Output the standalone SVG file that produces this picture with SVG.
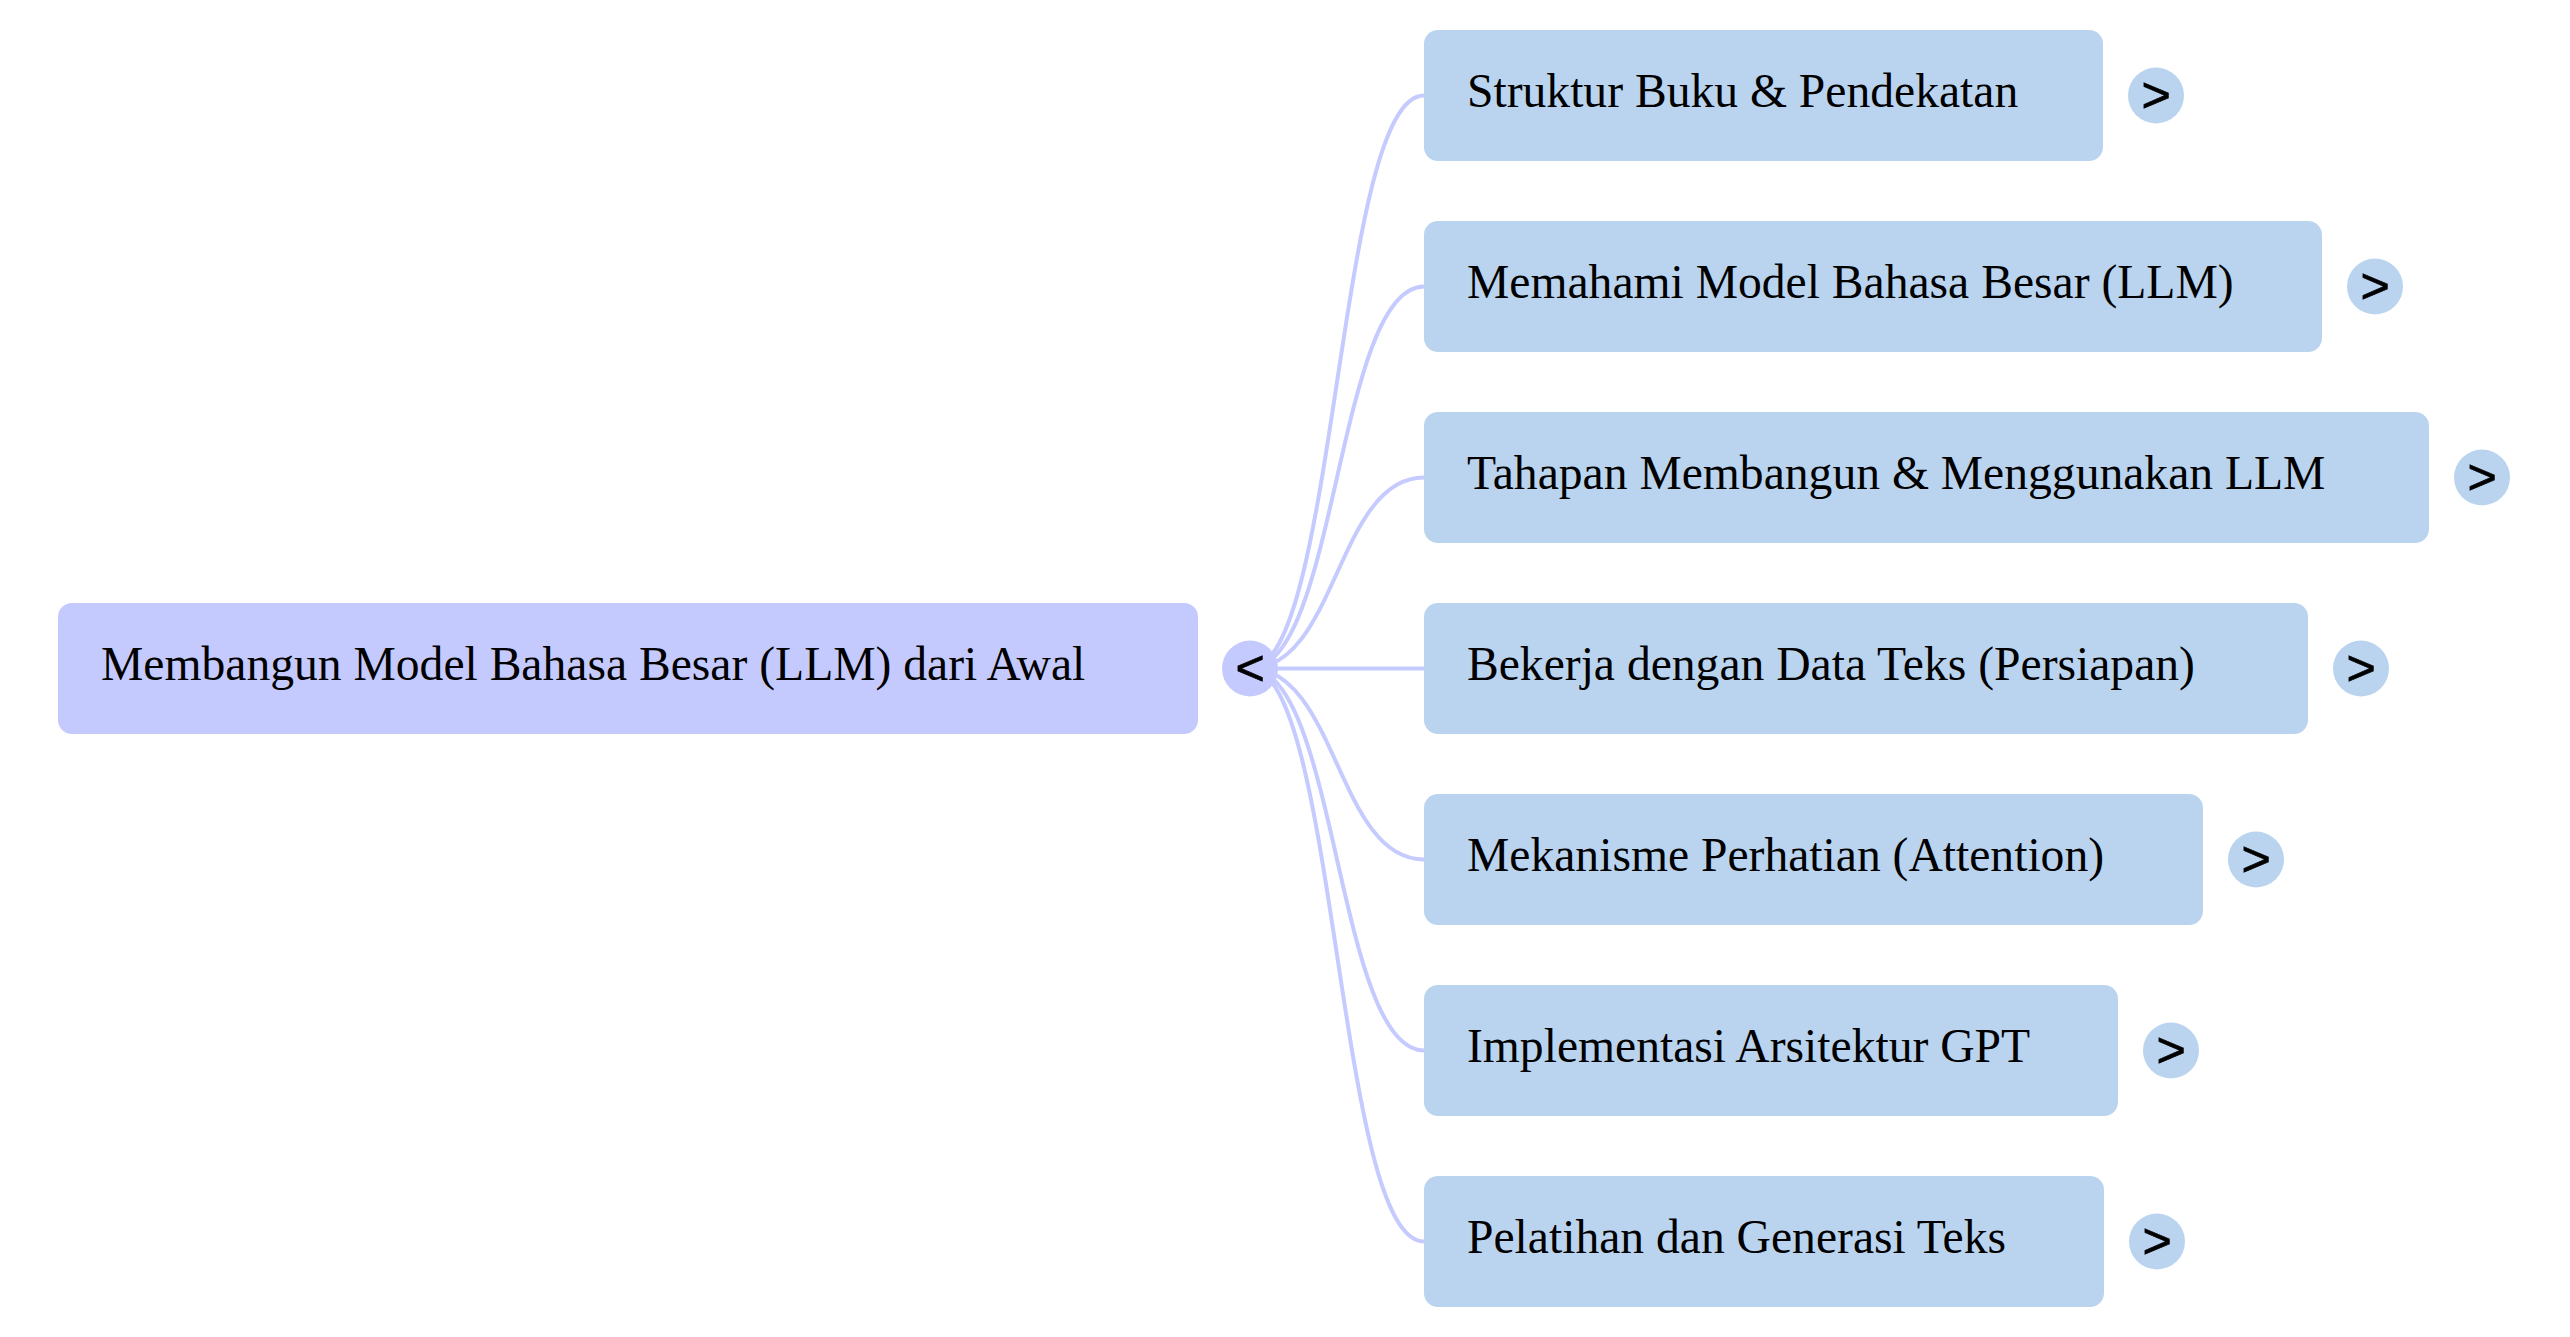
<svg xmlns="http://www.w3.org/2000/svg" width="2570" height="1337" viewBox="0 0 2570 1337">
<style>
.root{fill:#c5cafe}
.child{fill:#bad4ef}
.lbl{font-family:"Liberation Serif","Times New Roman",serif;font-size:47.6px;fill:#000}
.tog{font-family:"Liberation Sans",Arial,sans-serif;font-size:50px;fill:#000;text-anchor:middle;stroke:#000;stroke-width:0.8}
.link{fill:none;stroke:#c5cbfe;stroke-width:4}
</style>
<rect width="2570" height="1337" fill="#fff"/>
<g id="connectors">
<path class="link" d="M1250 668.5 C1337 668.5 1337 95.5 1424 95.5"/>
<path class="link" d="M1250 668.5 C1337 668.5 1337 286.5 1424 286.5"/>
<path class="link" d="M1250 668.5 C1337 668.5 1337 477.5 1424 477.5"/>
<path class="link" d="M1250 668.5 L1424 668.5"/>
<path class="link" d="M1250 668.5 C1337 668.5 1337 859.5 1424 859.5"/>
<path class="link" d="M1250 668.5 C1337 668.5 1337 1050.5 1424 1050.5"/>
<path class="link" d="M1250 668.5 C1337 668.5 1337 1241.5 1424 1241.5"/>
</g>
<g id="root">
<rect class="root" x="58" y="603" width="1140" height="131" rx="14"/>
<text class="lbl" x="101" y="680">Membangun Model Bahasa Besar (LLM) dari Awal</text>
<circle class="root" cx="1250" cy="668.5" r="28"/>
<text class="tog" x="1250" y="685">&lt;</text>
</g>
<g id="n1">
<rect class="child" x="1424" y="30" width="679" height="131" rx="14"/>
<text class="lbl" x="1467" y="107">Struktur Buku &amp; Pendekatan</text>
<circle class="child" cx="2156" cy="95.5" r="28"/>
<text class="tog" x="2156" y="112">&gt;</text>
</g>
<g id="n2">
<rect class="child" x="1424" y="221" width="898" height="131" rx="14"/>
<text class="lbl" x="1467" y="298">Memahami Model Bahasa Besar (LLM)</text>
<circle class="child" cx="2375" cy="286.5" r="28"/>
<text class="tog" x="2375" y="303">&gt;</text>
</g>
<g id="n3">
<rect class="child" x="1424" y="412" width="1005" height="131" rx="14"/>
<text class="lbl" x="1467" y="489">Tahapan Membangun &amp; Menggunakan LLM</text>
<circle class="child" cx="2482" cy="477.5" r="28"/>
<text class="tog" x="2482" y="494">&gt;</text>
</g>
<g id="n4">
<rect class="child" x="1424" y="603" width="884" height="131" rx="14"/>
<text class="lbl" x="1467" y="680">Bekerja dengan Data Teks (Persiapan)</text>
<circle class="child" cx="2361" cy="668.5" r="28"/>
<text class="tog" x="2361" y="685">&gt;</text>
</g>
<g id="n5">
<rect class="child" x="1424" y="794" width="779" height="131" rx="14"/>
<text class="lbl" x="1467" y="871">Mekanisme Perhatian (Attention)</text>
<circle class="child" cx="2256" cy="859.5" r="28"/>
<text class="tog" x="2256" y="876">&gt;</text>
</g>
<g id="n6">
<rect class="child" x="1424" y="985" width="694" height="131" rx="14"/>
<text class="lbl" x="1467" y="1062">Implementasi Arsitektur GPT</text>
<circle class="child" cx="2171" cy="1050.5" r="28"/>
<text class="tog" x="2171" y="1067">&gt;</text>
</g>
<g id="n7">
<rect class="child" x="1424" y="1176" width="680" height="131" rx="14"/>
<text class="lbl" x="1467" y="1253">Pelatihan dan Generasi Teks</text>
<circle class="child" cx="2157" cy="1241.5" r="28"/>
<text class="tog" x="2157" y="1258">&gt;</text>
</g>
</svg>
